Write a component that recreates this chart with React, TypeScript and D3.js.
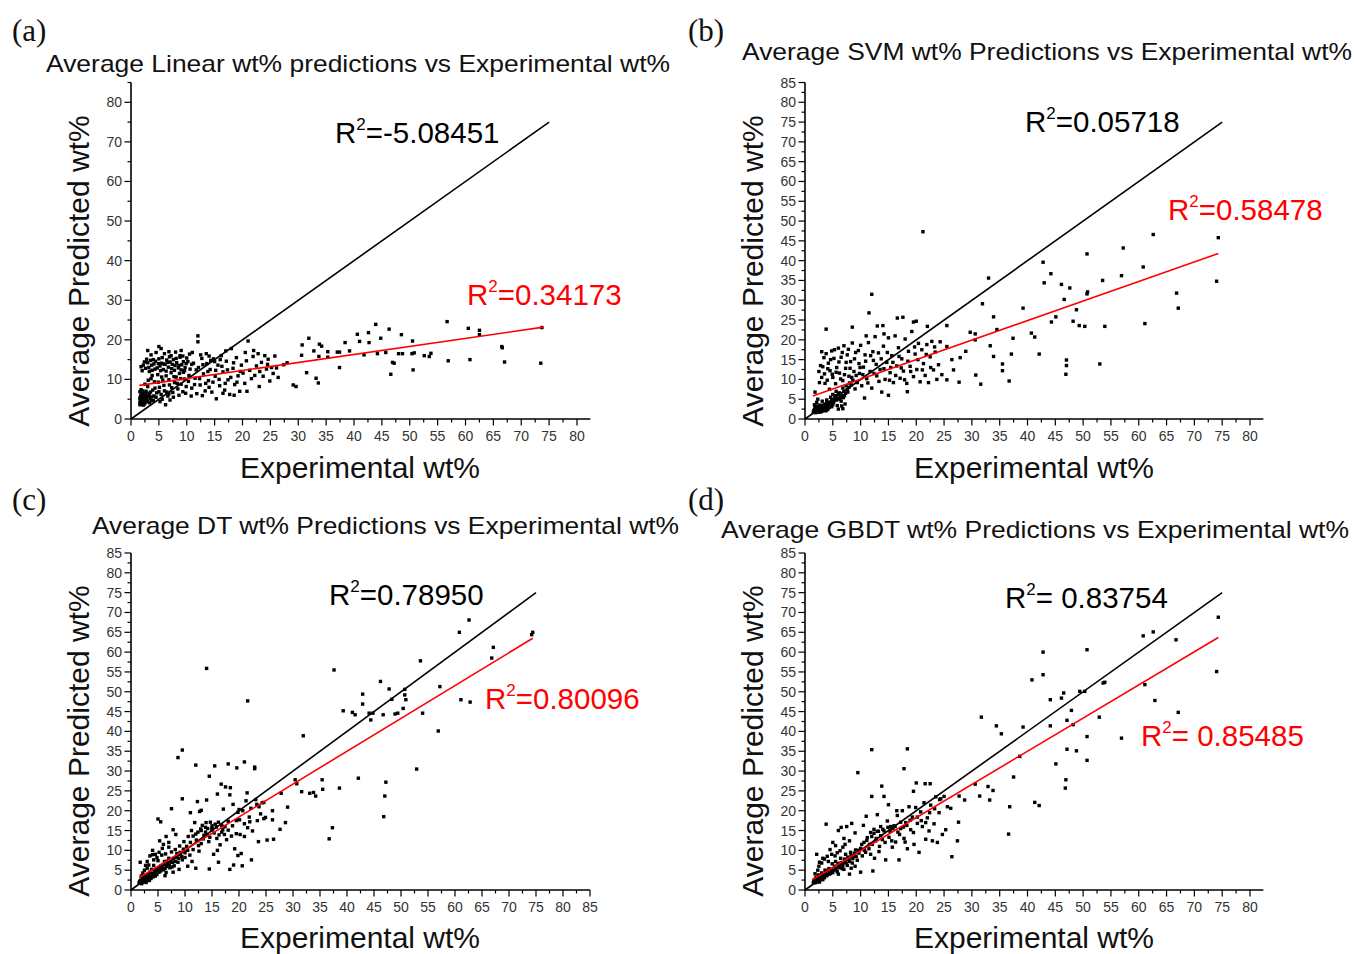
import React, { useEffect } from "react";
import * as d3 from "d3";

type P = [number, number];

// ---------- Panel (a): Linear ----------
const linearDense: P[] = [
  [1.6,4.2],[1.7,5.1],[1.8,6.0],[1.9,3.8],[2.0,4.6],[2.0,6.8],[2.1,5.5],[2.2,3.5],[2.3,4.9],[2.4,6.3],[1.6,6.9],[1.8,7.4],[2.5,4.1],[2.6,5.8],[2.7,7.0],[1.7,4.6],[2.2,5.9],[2.9,4.4],[1.9,5.3],[2.4,3.9],
  [1.8,13.2],[2.2,13.6],[2.6,12.8],[3.0,14.2],[3.2,13.0],[3.5,14.8],[3.8,12.3],[4.1,13.9],[4.4,14.6],[4.7,12.9],[5.0,15.2],[5.2,13.4],[5.5,14.1],[5.8,12.5],[6.1,13.8],[6.4,14.9],[6.7,13.1],[7.0,14.4],[7.3,12.7],[7.6,15.0],[7.9,13.5],[8.2,14.2],[8.5,12.9],[8.8,15.6],[9.1,13.7],[9.4,14.5],[9.7,13.0],[10.0,15.4],[3.0,17.3],[5.0,18.3],[5.4,17.8],[3.6,16.2],[6.0,16.5],[8.0,16.9],[9.0,17.3],[10.5,16.4],[7.2,16.0],
  [3.0,8.2],[3.3,6.5],[3.6,10.2],[3.9,7.3],[4.2,9.4],[4.5,5.5],[4.8,11.2],[5.1,8.0],[5.4,6.2],[5.7,9.8],[6.0,7.1],[6.3,10.9],[6.6,5.8],[6.9,8.6],[7.2,11.7],[7.5,6.7],[7.8,9.2],[8.1,10.6],[8.4,7.6],[8.7,11.5],[9.0,8.8],[9.3,6.9],[9.6,10.1],[9.9,8.2],[4.0,4.7],[5.2,4.4],[6.2,3.6],[5.6,5.0],[4.6,6.6],[3.4,5.2],[6.8,6.4],[7.0,4.8],
  [10.3,9.5],[10.6,12.6],[10.9,7.8],[11.2,14.1],[11.5,10.3],[11.8,6.4],[12.0,21.0],[12.0,19.5],[12.1,13.0],[12.4,8.6],[12.7,15.3],[13.0,11.4],[13.3,7.1],[13.6,14.0],[13.9,9.7],[14.2,12.5],[14.5,6.8],[14.8,15.2],[15.1,10.8],[15.3,5.1],[15.6,13.6],[15.9,8.4],[16.2,16.0],[16.5,11.9],[16.8,7.3],[17.1,14.6],[17.4,9.9],[17.7,6.2],[18.0,17.8],[18.3,12.8],[18.6,8.7],[18.9,15.5],[19.2,10.9],[19.5,7.0],[19.8,13.6],[11.0,16.8],[13.5,16.5],[15.0,14.5],[16.0,15.0],[17.0,17.2],[14.0,8.0],[16.5,6.5],[18.5,6.0],[10.8,5.8],[12.8,5.9],
  [20.1,11.6],[20.4,9.0],[20.7,14.7],[20.8,7.0],[21.0,19.7],[21.3,12.3],[21.6,10.2],[21.9,15.8],[22.2,11.0],[22.5,13.4],[22.8,16.5],[23.1,12.0],[23.4,14.3],[23.7,10.8],[24.0,16.0],[24.3,12.6],[24.6,15.1],[24.9,9.6],[25.2,13.0],[25.5,11.5],[25.8,15.9],[26.1,12.9],[26.4,10.5],[20.5,16.8],[22.0,17.3],[23.0,8.2],[24.5,13.8]
];
const linearExtra: P[] = [
  [1.6,3.6],[1.7,5.7],[1.8,4.4],[1.9,6.5],[2.0,3.9],[2.1,4.8],[2.1,7.1],[2.3,3.7],[2.3,5.4],[2.5,6.6],[2.6,4.5],[2.8,5.2],[2.8,6.1],[1.6,5.2],[2.0,5.9],[2.4,4.4],[3.1,5.8],[3.3,4.1],[3.5,6.8],[3.7,5.6],
  [2.0,12.2],[2.4,14.4],[2.8,15.1],[3.3,12.0],[3.7,13.6],[4.0,15.0],[4.3,12.6],[4.9,14.0],[5.3,12.2],[5.6,15.5],[5.9,13.9],[6.3,12.1],[6.6,14.3],[6.9,15.7],[7.4,13.8],[7.8,12.3],[8.1,15.3],[8.6,13.5],[9.0,12.4],[9.3,15.9],[9.6,12.2],[9.9,14.0],[4.5,16.8],[6.8,17.0],[8.8,16.0],
  [2.5,8.8],[3.1,9.8],[3.8,11.0],[4.3,7.8],[4.9,9.3],[5.5,10.6],[5.9,8.5],[6.4,6.8],[6.8,9.9],[7.3,7.9],[7.7,10.7],[8.3,9.0],[8.9,10.2],[9.4,11.8],[9.8,6.5],[5.0,6.9],[4.1,5.8],[3.6,4.6],[7.6,5.5],[8.6,6.0],
  [10.4,11.0],[10.9,13.8],[11.4,8.7],[11.7,12.4],[12.3,10.2],[12.9,13.7],[13.4,9.0],[13.8,12.0],[14.3,14.8],[14.7,9.3],[15.2,12.3],[15.8,10.0],[16.3,13.3],[16.9,9.0],[17.3,12.4],[17.9,10.5],[18.4,14.2],[19.0,9.3],[19.6,12.0],[14.0,15.9],[12.5,16.2],[10.2,14.5]
];
const linearSparse: P[] = [
  [27.4,13.7],[28.0,14.2],[29.1,8.6],[29.6,8.2],[30.6,16.1],[30.7,18.7],[31.5,11.7],[31.9,20.4],[32.8,17.2],[33.2,10.3],[33.6,9.1],[33.7,15.8],[33.8,18.9],[34.2,18.4],[35.3,17.0],[35.3,15.6],[37.0,16.9],[37.4,16.9],[37.4,13.0],[38.4,19.3],[39.2,17.2],[40.6,21.4],[41.0,19.6],[41.8,16.2],[42.6,21.8],[42.7,19.3],[43.9,23.9],[44.2,16.5],[44.8,20.4],[45.7,16.8],[46.3,22.7],[46.6,11.3],[46.9,14.3],[47.2,14.1],[48.0,16.5],[48.5,21.3],[48.7,16.5],[50.4,16.5],[50.5,19.7],[50.6,12.4],[50.8,16.7],[52.6,16.0],[53.5,15.8],[53.8,16.6],[56.7,24.6],[56.9,14.7],[60.5,22.9],[60.8,15.0],[62.5,22.4],[62.5,21.3],[66.5,18.3],[66.6,18.0],[67.0,14.4],[73.5,14.1],[73.7,23.1]
];

// ---------- Panel (b): SVM ----------
const svmDense: P[] = [
  [1.5,1.8],[1.7,2.4],[1.9,1.6],[2.0,3.0],[2.2,2.1],[2.4,2.7],[2.5,1.7],[2.7,3.5],[2.9,2.3],[3.0,1.9],[3.2,3.0],[3.4,2.5],[3.6,3.8],[3.8,2.1],[4.0,3.3],[4.2,2.8],[4.5,4.0],[4.8,3.1],[2.1,4.2],[1.8,6.8],[2.3,5.0],[3.1,4.5],[5.0,3.6],[3.9,4.8],
  [4.6,5.5],[5.0,6.2],[5.3,4.6],[5.6,7.0],[5.9,5.2],[6.2,6.6],[6.5,4.5],[6.8,7.8],[7.1,5.9],[7.4,8.4],[7.7,6.8],[8.0,9.1],[6.0,2.5],[6.8,2.6],[7.2,3.8],[5.5,5.9],[6.4,5.5],[7.0,7.0],
  [2.6,9.2],[2.8,13.5],[3.2,13.2],[3.5,11.4],[3.8,16.5],[4.0,9.8],[4.2,14.1],[4.5,12.2],[4.8,17.2],[5.0,10.5],[5.2,15.3],[5.5,8.9],[5.7,13.0],[6.0,17.9],[6.2,11.6],[6.5,15.6],[6.8,9.7],[7.0,18.5],[7.3,12.8],[7.6,16.2],[7.9,10.8],[8.2,14.5],[8.5,19.2],[8.8,12.0],[9.1,16.8],[9.4,9.2],[9.7,14.0],[10.0,18.6],[3.8,22.7],[8.5,23.2],[3.0,17.0],[4.4,7.5],[9.0,7.6],[9.8,11.5],[2.5,12.0],
  [10.2,8.4],[10.5,13.1],[10.8,16.2],[11.1,10.2],[11.4,19.3],[11.5,26.8],[11.7,12.0],[12.0,31.5],[12.0,7.8],[12.3,14.8],[12.6,20.8],[12.9,10.9],[13.0,23.5],[13.2,16.7],[13.5,12.5],[13.8,6.8],[14.0,23.6],[14.1,18.4],[14.4,10.0],[14.7,14.3],[15.0,20.5],[15.0,6.0],[15.3,11.7],[15.6,16.0],[15.9,9.2],[16.2,21.0],[16.5,13.4],[16.6,25.5],[16.8,18.0],[17.1,10.3],[17.4,15.2],[17.6,25.7],[17.7,12.1],[18.0,20.2],[18.3,9.0],[18.6,17.1],[18.9,13.3],[18.4,6.9],[19.2,22.1],[19.5,24.5],[19.5,10.7],[19.8,16.4],[20.0,24.7],[20.1,12.5],[20.4,19.1],[20.7,9.4],[21.0,17.5],[21.3,14.0],[21.6,11.0],[21.9,18.8],[22.0,23.4],[22.2,9.2],[22.5,15.7],[22.8,19.6],[23.1,12.4],[23.4,16.9],[23.7,10.0],[24.0,13.7],[24.3,19.5],[24.6,11.2],[11.0,21.0],[12.2,17.0],[14.2,21.5],[10.7,5.3],[15.4,13.0]
];
const svmExtra: P[] = [
  [1.6,2.1],[1.8,2.9],[2.0,1.9],[2.1,2.5],[2.3,3.3],[2.4,2.0],[2.6,2.4],[2.6,3.0],[2.8,1.8],[2.9,2.8],[3.1,2.3],[3.3,3.5],[3.5,2.1],[3.5,2.9],[3.7,3.1],[3.9,3.6],[4.1,2.4],[4.3,3.8],[4.4,3.0],[4.7,4.3],[1.7,3.6],[2.0,2.3],[3.0,3.3],[4.0,4.2],
  [4.8,5.0],[5.1,4.2],[5.4,5.4],[5.7,4.8],[6.0,6.2],[6.3,5.0],[6.6,6.0],[6.9,5.4],[7.3,6.5],[7.6,7.5],[7.9,8.0],[8.3,8.6],[8.6,9.8],[5.8,3.4],[6.6,3.3],
  [3.0,10.5],[3.4,15.5],[3.6,9.0],[4.1,12.7],[4.6,15.0],[4.9,11.3],[5.3,17.5],[5.6,11.8],[6.1,14.4],[6.4,10.1],[6.7,16.8],[7.1,11.2],[7.4,14.3],[7.8,17.6],[8.1,12.8],[8.4,10.5],[8.9,15.2],[9.2,11.0],[9.6,17.3],[9.9,13.0],
  [10.4,11.2],[10.9,14.6],[11.3,9.1],[11.8,16.0],[12.4,11.5],[12.8,13.8],[13.3,9.5],[13.7,15.2],[14.2,12.7],[14.8,16.8],[15.2,9.8],[15.8,14.3],[16.3,11.0],[16.9,15.8],[17.3,12.9],[17.9,9.9],[18.5,14.6],[19.0,12.0],[19.7,18.2],[20.3,15.0],[21.1,12.4],[21.8,16.3],[22.6,13.0],[23.3,18.2]
];
const svmSparse: P[] = [
  [21.2,47.3],[25.5,23.6],[25.5,18.3],[26.4,15.0],[26.7,12.4],[25.5,9.9],[27.7,9.3],[27.9,15.5],[28.9,17.1],[29.7,21.9],[30.6,21.5],[30.6,20.0],[30.7,11.1],[31.6,8.8],[31.9,29.1],[33.0,35.6],[33.3,18.5],[33.9,25.8],[33.9,15.8],[34.5,22.6],[35.5,13.9],[35.5,12.2],[36.7,9.6],[37.1,16.4],[37.4,20.4],[39.2,28.0],[40.7,21.7],[41.3,20.7],[42.1,16.4],[42.8,39.6],[43.0,34.4],[44.2,36.7],[44.3,24.5],[45.1,25.8],[46.1,34.0],[46.6,30.2],[46.9,11.3],[47.0,14.9],[47.0,13.5],[47.6,33.1],[48.2,24.7],[48.8,27.6],[49.3,23.6],[50.3,23.4],[50.7,41.7],[50.7,31.6],[50.8,32.1],[53.0,13.9],[53.5,35.0],[53.9,23.4],[56.9,36.2],[57.2,43.2],[60.8,38.4],[61.1,24.1],[62.6,46.6],[66.8,31.8],[67.1,28.0],[74.0,34.8],[74.3,45.8]
];

// ---------- Panel (c): DT ----------
const dtDense: P[] = [
  [1.5,1.8],[1.8,2.5],[2.0,1.6],[2.2,3.0],[2.4,2.2],[2.6,3.6],[2.8,1.9],[3.0,2.8],[3.2,4.1],[3.4,2.4],[3.6,3.3],[1.7,7.0],[2.2,4.3],[1.9,3.5],[2.5,5.0],[3.8,5.2],
  [4.0,4.0],[4.2,6.2],[4.5,3.5],[4.7,5.3],[5.0,7.4],[5.2,4.5],[5.5,6.0],[5.7,8.8],[6.0,5.1],[6.2,7.2],[6.5,4.4],[6.7,6.5],[7.0,8.0],[7.2,5.6],[7.5,9.6],[7.7,7.0],[8.0,6.1],[8.2,10.2],[8.5,8.3],[8.7,7.0],[9.0,11.1],[9.2,9.0],[9.5,7.6],[9.8,12.2],[10.0,9.4],[3.0,7.2],[3.5,8.6],[4.0,10.0],[4.5,9.0],[5.0,17.9],[5.5,17.2],[5.3,12.4],[6.0,11.5],[6.5,13.5],[7.0,12.0],[7.5,20.5],[7.8,15.2],[8.3,14.0],[9.5,23.0],[8.7,33.4],[9.5,35.3],[6.3,3.6],[7.8,4.5],[8.9,5.2],[10.5,6.0],
  [10.3,11.0],[10.6,13.5],[10.9,8.8],[11.2,15.0],[11.5,10.2],[11.8,17.0],[12.0,31.5],[12.0,5.5],[12.1,12.6],[12.3,22.3],[12.4,14.6],[12.7,19.8],[13.0,11.7],[13.2,16.3],[13.5,13.8],[13.8,15.8],[14.0,22.7],[14.1,14.0],[14.4,12.2],[14.5,28.7],[14.7,17.1],[15.0,15.2],[15.3,9.0],[15.5,31.3],[15.6,16.6],[15.9,13.0],[16.2,7.0],[16.2,17.1],[16.5,11.4],[16.7,26.7],[16.8,14.6],[17.1,20.4],[17.4,16.0],[17.5,26.0],[17.7,12.7],[18.0,31.8],[18.0,17.3],[18.3,24.0],[18.4,25.8],[18.6,13.6],[18.9,21.6],[19.2,10.4],[19.5,14.2],[19.6,30.8],[19.8,19.6],[20.1,17.7],[20.4,9.2],[20.7,20.0],[21.0,32.3],[21.0,13.5],[21.3,22.5],[21.6,15.7],[21.9,18.4],[22.2,20.6],[22.5,14.9],[22.9,31.0],[22.9,30.6],[23.1,22.8],[23.4,17.5],[23.7,21.0],[24.0,19.2],[24.3,22.0],[24.6,18.0],[24.9,18.3],[11.0,19.5],[13.0,20.1],[14.5,5.3],[19.0,6.3],[20.0,20.3],[16.0,24.2],[21.5,24.5],[15.0,15.5],[13.9,17.0],[12.9,15.4],[17.0,15.2]
];
const dtExtra: P[] = [
  [1.6,2.2],[1.8,1.8],[2.0,2.4],[2.1,3.5],[2.3,2.0],[2.5,2.8],[2.7,2.3],[2.9,3.3],[3.1,2.5],[3.3,3.2],[3.5,4.5],[3.7,2.9],[3.9,4.1],[4.1,3.3],[4.3,4.8],[4.6,4.2],[4.8,3.9],[5.0,5.2],[5.3,5.6],[5.5,4.8],[5.8,5.5],[6.0,6.4],[6.3,5.4],[6.6,5.9],[6.8,7.3],[7.1,6.3],[7.4,7.0],[7.6,5.8],[7.9,8.0],[8.2,7.2],[8.5,9.2],[8.8,8.0],[9.1,9.5],[9.4,8.4],[9.7,10.3],[10.0,8.2],[3.0,5.5],[3.3,6.3],[4.2,7.6],[4.8,8.2],[5.2,9.5],[5.8,10.5],[6.4,9.1],[7.0,10.8],[2.7,6.2],[4.0,8.9],
  [10.5,10.0],[11.0,12.0],[11.5,13.6],[12.0,14.1],[12.5,11.2],[13.0,15.0],[13.4,12.9],[13.8,14.6],[14.2,15.5],[14.6,13.3],[15.0,16.2],[15.4,14.4],[15.8,15.9],[16.3,13.9],[16.8,16.3],[17.3,14.0],[18.0,15.1],[18.8,16.2],[19.5,17.5],[20.2,14.0],[21.0,16.7],[22.0,17.2],[12.6,9.8],[16.0,10.0],[19.8,8.7],[11.3,7.2]
];
const dtSparse: P[] = [
  [14.0,55.9],[21.6,47.7],[31.9,38.9],[37.6,55.5],[39.3,45.2],[41.0,44.8],[41.5,44.2],[42.9,49.4],[42.9,46.9],[44.1,44.6],[44.8,44.6],[44.4,42.9],[46.2,52.6],[46.7,44.2],[47.8,50.7],[48.3,48.1],[48.9,44.4],[49.4,44.6],[50.4,45.8],[50.7,50.6],[50.7,49.2],[50.9,48.0],[53.6,57.8],[54.0,44.6],[56.9,40.1],[57.2,51.3],[60.8,65.0],[61.1,48.0],[62.6,68.1],[62.8,47.4],[66.8,58.5],[67.1,61.2],[74.2,64.4],[74.4,65.0],[52.9,30.5],[42.1,28.2],[47.2,27.2],[47.0,23.7],[46.8,18.5],[38.6,25.7],[37.3,15.7],[36.7,12.9],[35.4,27.8],[35.5,25.4],[33.1,24.4],[33.8,24.6],[34.2,23.7],[31.6,24.8],[30.4,27.8],[30.7,26.8],[29.0,20.9],[27.8,24.4],[28.6,17.0],[27.6,15.3],[26.4,12.8],[25.2,12.6],[23.6,12.2],[23.3,21.6],[24.6,22.1],[26.2,20.0],[26.2,17.7],[22.3,7.6],[20.6,6.1],[18.3,5.2]
];

// ---------- Panel (d): GBDT ----------
const gbdtDense: P[] = [
  [1.5,1.9],[1.7,2.6],[1.9,2.0],[2.0,3.2],[2.2,2.3],[2.4,3.8],[2.6,2.0],[2.8,3.0],[3.0,4.3],[3.2,2.6],[3.4,3.5],[3.6,5.0],[1.8,4.1],[2.3,5.0],[2.1,9.0],[2.5,6.0],[3.0,6.8],[3.5,7.8],[4.0,8.5],[3.8,16.6],
  [4.0,3.8],[4.3,5.4],[4.6,4.2],[4.9,6.6],[5.2,5.0],[5.5,7.2],[5.8,4.6],[6.1,6.1],[6.4,8.0],[6.7,5.4],[7.0,7.0],[7.3,9.0],[7.6,6.2],[7.9,7.8],[8.2,9.5],[8.5,6.8],[8.8,8.6],[9.1,10.1],[9.4,7.5],[9.7,9.3],[4.5,10.2],[5.0,12.0],[5.5,11.2],[6.0,15.0],[6.5,15.8],[7.5,16.0],[8.4,16.8],[7.0,13.0],[8.0,12.4],[9.0,14.4],[5.8,9.4],[6.8,10.8],[9.5,29.6],[10.0,4.5],[8.0,4.0],
  [10.0,10.5],[10.3,8.6],[10.6,12.0],[10.9,9.5],[11.2,13.2],[11.5,10.4],[11.8,14.5],[12.0,35.4],[12.0,23.6],[12.1,11.5],[12.2,4.8],[12.4,15.3],[12.7,12.4],[13.0,14.8],[13.3,9.7],[13.6,16.0],[13.8,26.2],[13.9,12.7],[14.2,23.6],[14.2,14.9],[14.5,7.6],[14.8,17.4],[15.1,13.3],[15.4,16.0],[15.7,10.8],[16.0,16.2],[16.3,12.1],[16.6,18.8],[16.9,7.6],[17.2,15.5],[17.5,20.0],[17.8,30.6],[17.8,13.0],[18.1,17.0],[18.4,35.6],[18.4,10.4],[18.7,21.0],[19.0,15.2],[19.3,18.4],[19.5,24.9],[19.6,11.5],[19.9,20.8],[20.0,27.0],[20.2,16.8],[20.5,9.5],[20.8,19.7],[21.1,16.0],[21.4,22.0],[21.6,26.8],[21.7,12.8],[22.0,18.2],[22.3,14.9],[22.5,26.8],[22.6,21.4],[22.9,12.4],[23.2,16.7],[23.5,23.5],[23.8,12.0],[24.1,19.5],[24.4,23.0],[24.7,14.0],[25.0,23.6],[11.0,18.6],[13.0,19.0],[15.0,21.5],[16.5,20.0],[10.5,16.3],[12.5,8.0],[17.0,14.0]
];
const gbdtExtra: P[] = [
  [1.6,2.3],[1.8,1.8],[1.9,2.9],[2.1,2.0],[2.3,3.0],[2.4,2.4],[2.6,3.3],[2.7,2.6],[2.9,3.6],[3.1,3.0],[3.3,4.0],[3.5,3.1],[3.7,4.4],[3.9,3.6],[4.1,4.8],[4.4,4.0],[4.7,5.2],[5.0,4.4],[5.3,6.0],[5.6,5.2],[5.9,6.7],[6.2,5.6],[6.5,6.9],[6.8,6.2],[7.1,7.8],[7.4,6.8],[7.7,8.3],[8.0,7.2],[8.3,8.7],[8.6,7.9],[8.9,9.3],[9.2,8.4],[9.6,10.0],[2.6,7.0],[3.2,8.0],[4.2,7.2],[4.8,9.0],[5.4,8.6],[6.3,9.9],[7.2,11.5],[6.0,4.0],[7.0,5.2],[8.3,5.5],[9.0,6.0],
  [10.2,11.5],[10.7,10.0],[11.1,12.5],[11.6,11.5],[12.0,13.5],[12.4,14.3],[12.8,13.0],[13.2,14.8],[13.6,13.7],[14.0,15.3],[14.4,12.0],[14.9,15.8],[15.3,14.8],[15.8,15.5],[16.2,16.0],[16.7,14.6],[17.2,17.1],[17.7,15.9],[18.3,16.3],[18.9,17.6],[19.5,14.5],[20.2,18.4],[20.9,17.5],[21.7,17.0],[22.4,19.5],[23.3,20.5],[24.2,22.8],[13.4,11.0],[15.6,12.4],[18.0,12.1],[11.8,9.0]
];
const gbdtSparse: P[] = [
  [74.3,68.8],[74.0,55.1],[62.6,65.1],[60.8,64.1],[66.7,63.1],[50.7,60.6],[42.8,60.0],[42.8,54.3],[40.8,53.0],[53.6,52.2],[53.9,52.4],[61.1,51.8],[46.5,49.7],[49.4,50.1],[50.3,50.1],[46.1,48.4],[44.1,48.0],[62.9,47.8],[47.9,45.3],[52.9,43.6],[67.1,44.8],[31.7,43.6],[47.1,42.8],[48.2,41.7],[34.4,41.4],[39.2,41.1],[44.1,41.4],[35.3,39.4],[50.7,38.7],[56.9,38.3],[47.1,35.5],[48.8,35.1],[38.6,33.7],[50.7,32.7],[45.1,31.8],[37.5,28.5],[46.9,27.8],[46.8,25.7],[30.6,26.7],[31.4,23.7],[32.9,26.1],[33.8,25.1],[33.2,22.7],[36.8,21.0],[41.3,22.1],[42.1,21.3],[36.6,14.1],[27.7,23.7],[28.7,22.7],[27.6,17.1],[27.4,12.4],[26.4,8.4],[25.3,15.2],[25.6,21.0],[26.2,20.6]
];

// ---------- Lines ----------
const identityLine: P[] = [[0, 0], [75, 75]];
const fitLinear: P[] = [[1.5, 8.5], [74, 23.2]];
const fitSVM: P[] = [[1.4, 5.8], [74.3, 41.8]];
const fitDT: P[] = [[1.5, 3.1], [74.4, 63.5]];
const fitGBDT: P[] = [[1.3, 2.6], [74.3, 63.7]];

// ---------- Texts ----------
const panelLetters = ["(a)", "(b)", "(c)", "(d)"];
const titles = [
  "Average Linear wt% predictions vs Experimental wt%",
  "Average SVM wt% Predictions vs Experimental wt%",
  "Average DT wt% Predictions vs Experimental wt%",
  "Average GBDT wt% Predictions vs Experimental wt%",
];
const r2Black = ["=-5.08451", "=0.05718", "=0.78950", "= 0.83754"];
const r2Red = ["=0.34173", "=0.58478", "=0.80096", "= 0.85485"];
const xLabel = "Experimental wt%";
const yLabel = "Average Predicted wt%";

const xTicks80 = [0, 5, 10, 15, 20, 25, 30, 35, 40, 45, 50, 55, 60, 65, 70, 75, 80];
const xTicks85 = [0, 5, 10, 15, 20, 25, 30, 35, 40, 45, 50, 55, 60, 65, 70, 75, 80, 85];
const yTicks10 = [0, 10, 20, 30, 40, 50, 60, 70, 80];
const yTicks5 = [0, 5, 10, 15, 20, 25, 30, 35, 40, 45, 50, 55, 60, 65, 70, 75, 80, 85];

const SANS = "'Liberation Sans', Arial, Helvetica, sans-serif";

interface Cfg {
  idx: number;
  pts: P[];
  fit: P[];
  xDomMax: number; xR0: number; xR1: number; xAxisEnd: number;
  y0: number; y85: number;
  xTicks: number[]; yTicks: number[]; yMinorStep: number; xMinorStep: number;
  letter: [number, number];
  title: [number, number, number];
  yl: [number, number];
  xl: [number, number];
  rb: [number, number];
  rr: [number, number];
}

const cfgs: Cfg[] = [
  { idx: 0, pts: linearDense.concat(linearExtra, linearSparse), fit: fitLinear,
    xDomMax: 80, xR0: 131, xR1: 577, xAxisEnd: 82.4, y0: 419, y85: 82.5,
    xTicks: xTicks80, yTicks: yTicks10, yMinorStep: 5, xMinorStep: 2.5,
    letter: [12, 41], title: [46, 72, 624], yl: [89, 271], xl: [360, 478], rb: [335, 143], rr: [467, 305] },
  { idx: 1, pts: svmDense.concat(svmExtra, svmSparse), fit: fitSVM,
    xDomMax: 80, xR0: 805, xR1: 1250, xAxisEnd: 82.4, y0: 419, y85: 82.5,
    xTicks: xTicks80, yTicks: yTicks5, yMinorStep: 2.5, xMinorStep: 2.5,
    letter: [688, 41], title: [742, 60, 610], yl: [763, 271], xl: [1034, 478], rb: [1025, 132], rr: [1168, 220] },
  { idx: 2, pts: dtDense.concat(dtExtra, dtSparse), fit: fitDT,
    xDomMax: 85, xR0: 131, xR1: 590, xAxisEnd: 85, y0: 890, y85: 553,
    xTicks: xTicks85, yTicks: yTicks5, yMinorStep: 2.5, xMinorStep: 2.5,
    letter: [12, 510], title: [92, 534, 587], yl: [89, 741], xl: [360, 948], rb: [329, 605], rr: [485, 709] },
  { idx: 3, pts: gbdtDense.concat(gbdtExtra, gbdtSparse), fit: fitGBDT,
    xDomMax: 80, xR0: 805, xR1: 1250, xAxisEnd: 82.4, y0: 890, y85: 553,
    xTicks: xTicks80, yTicks: yTicks5, yMinorStep: 2.5, xMinorStep: 2.5,
    letter: [688, 510], title: [721, 538, 628], yl: [763, 741], xl: [1034, 948], rb: [1005, 608], rr: [1141, 746] },
];

function R2({ x, y, rest, color }: { x: number; y: number; rest: string; color: string }) {
  return (
    <text x={x} y={y} fill={color} fontFamily={SANS} fontSize={29.5}>
      R<tspan fontSize={17} dy={-13}>2</tspan>
      <tspan dy={13}>{rest}</tspan>
    </text>
  );
}

function Panel({ c }: { c: Cfg }) {
  const x = d3.scaleLinear().domain([0, c.xDomMax]).range([c.xR0, c.xR1]);
  const y = d3.scaleLinear().domain([0, 85]).range([c.y0, c.y85]);
  const line = d3.line<P>().x((d) => x(d[0])).y((d) => y(d[1]));
  const xMinor = d3.range(0, c.xAxisEnd + 0.01, c.xMinorStep).filter((v) => !c.xTicks.includes(v));
  const yMinor = d3.range(0, 85.01, c.yMinorStep).filter((v) => !c.yTicks.includes(v));
  const s = 3.4;
  return (
    <g>
      <text x={c.letter[0]} y={c.letter[1]} fontFamily="'Liberation Serif', 'Times New Roman', serif" fontSize={31} fill="#111">
        {panelLetters[c.idx]}
      </text>
      <text x={c.title[0]} y={c.title[1]} textLength={c.title[2]} lengthAdjust="spacingAndGlyphs"
        fontFamily={SANS} fontSize={24} fill="#111">{titles[c.idx]}</text>
      <text transform={`translate(${c.yl[0]},${c.yl[1]}) rotate(-90)`} textAnchor="middle"
        fontFamily={SANS} fontSize={30} fill="#111">{yLabel}</text>
      <text x={c.xl[0]} y={c.xl[1]} textAnchor="middle" fontFamily={SANS} fontSize={30} fill="#111">{xLabel}</text>

      <line x1={x(0)} x2={x(c.xAxisEnd)} y1={y(0)} y2={y(0)} stroke="#000" strokeWidth={1.6} />
      <line x1={x(0)} x2={x(0)} y1={y(0)} y2={y(85)} stroke="#000" strokeWidth={1.6} />
      {c.xTicks.map((t) => (
        <g key={"xt" + t}>
          <line x1={x(t)} x2={x(t)} y1={y(0)} y2={y(0) + 6.5} stroke="#000" strokeWidth={1.2} />
          <text x={x(t)} y={y(0) + 22} textAnchor="middle" fontFamily={SANS} fontSize={14} fill="#333">{t}</text>
        </g>
      ))}
      {xMinor.map((t) => (
        <line key={"xm" + t} x1={x(t)} x2={x(t)} y1={y(0)} y2={y(0) + 3.5} stroke="#000" strokeWidth={1.2} />
      ))}
      {c.yTicks.map((t) => (
        <g key={"yt" + t}>
          <line x1={x(0) - 6.5} x2={x(0)} y1={y(t)} y2={y(t)} stroke="#000" strokeWidth={1.2} />
          <text x={x(0) - 9} y={y(t) + 5} textAnchor="end" fontFamily={SANS} fontSize={14} fill="#333">{t}</text>
        </g>
      ))}
      {yMinor.map((t) => (
        <line key={"ym" + t} x1={x(0) - 3.5} x2={x(0)} y1={y(t)} y2={y(t)} stroke="#000" strokeWidth={1.2} />
      ))}

      {c.pts.map((d, i) => (
        <rect key={i} x={x(d[0]) - s / 2} y={y(d[1]) - s / 2} width={s} height={s} fill="#000" />
      ))}

      <path d={line(identityLine) || ""} stroke="#000" strokeWidth={1.6} fill="none" />
      <path d={line(c.fit) || ""} stroke="#ff0000" strokeWidth={1.6} fill="none" />

      <R2 x={c.rb[0]} y={c.rb[1]} rest={r2Black[c.idx]} color="#000" />
      <R2 x={c.rr[0]} y={c.rr[1]} rest={r2Red[c.idx]} color="#ff0000" />
    </g>
  );
}

export default function App() {
  useEffect(() => {
    document.body.style.margin = "0";
  }, []);
  return (
    <svg width={1354} height={954} style={{ position: "absolute", left: 0, top: 0, background: "#fff" }}>
      <rect width={1354} height={954} fill="#fff" />
      {cfgs.map((c) => (
        <Panel key={c.idx} c={c} />
      ))}
    </svg>
  );
}
